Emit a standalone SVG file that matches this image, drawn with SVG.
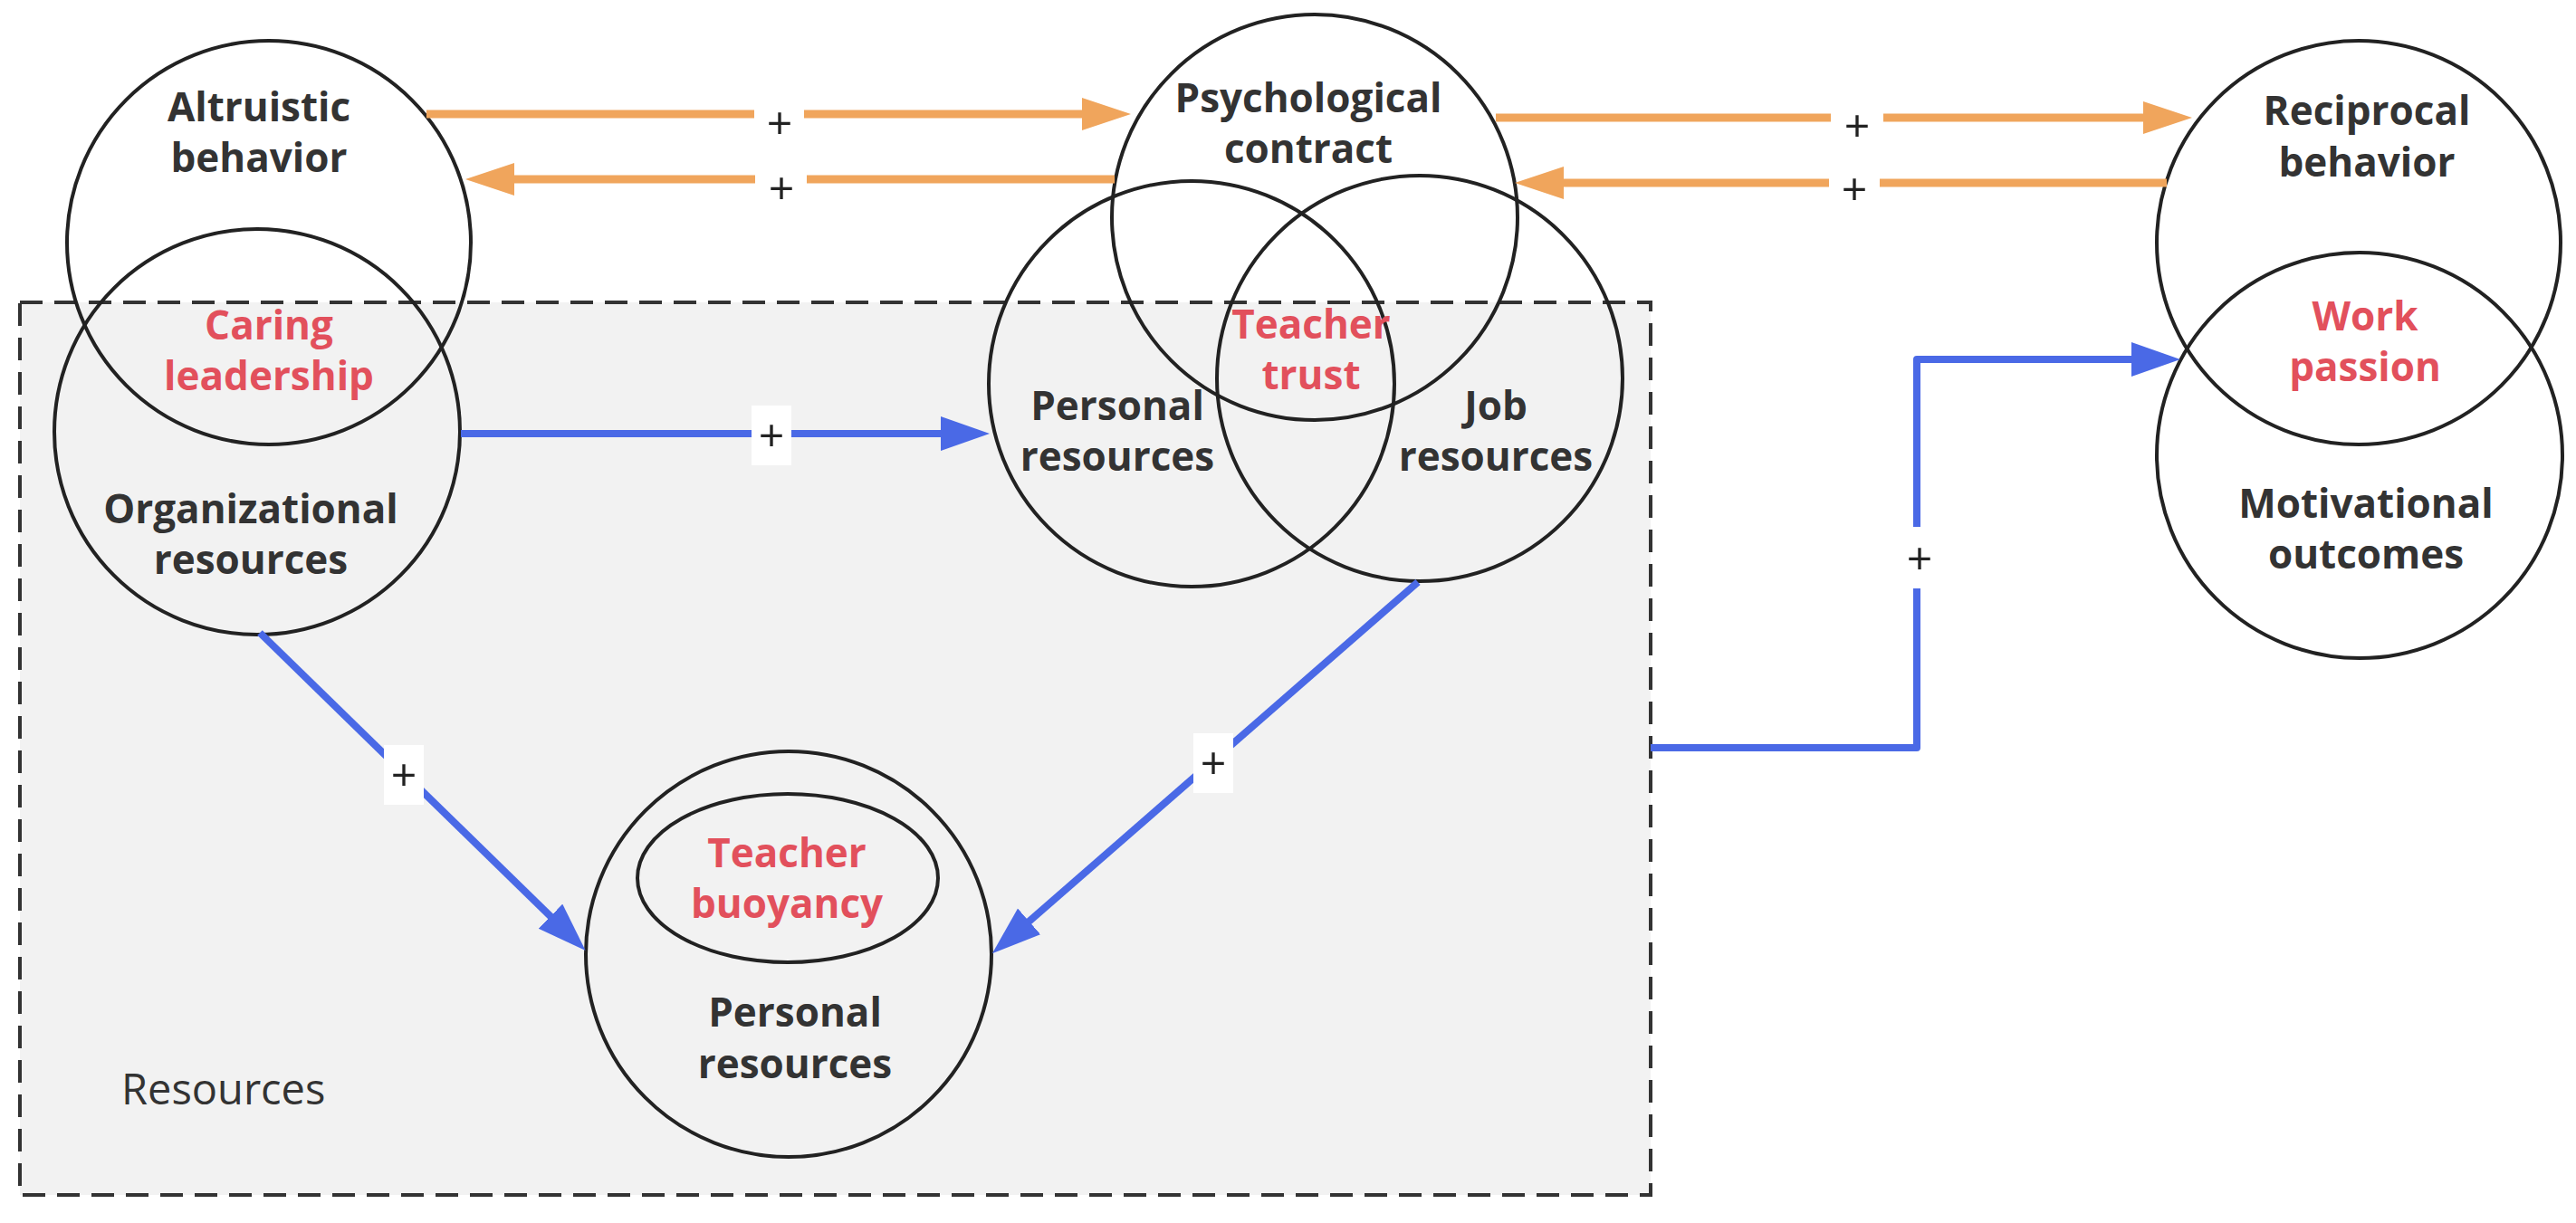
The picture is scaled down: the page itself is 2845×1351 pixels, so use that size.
<svg xmlns="http://www.w3.org/2000/svg" width="2845" height="1351" viewBox="0 0 2845 1351">
  <defs>
    <style>
      .node { fill: none; stroke: #222; stroke-width: 4; }
      .t { font-family: "Open Sans", "Noto Sans", "Liberation Sans", sans-serif; font-weight: 700; font-size: 44px; fill: #333; text-anchor: middle; }
      .red { fill: #e2505c; }
      .plain { font-family: "Open Sans", "Noto Sans", "Liberation Sans", sans-serif; font-weight: 400; font-size: 47px; fill: #333; }
      .plus { font-family: "Open Sans", "Liberation Sans", sans-serif; font-weight: 400; font-size: 50px; fill: #222; text-anchor: middle; }
      .orange { fill: none; stroke: #f0a55c; stroke-width: 9; }
      .blue { fill: none; stroke: #4a69e6; stroke-width: 8; stroke-linejoin: round; }
      .lblbox { fill: #ffffff; }
    </style>
    <marker id="arrO" markerUnits="userSpaceOnUse" markerWidth="56" markerHeight="40" refX="14" refY="19" orient="auto">
      <path d="M0,1 L54,19 L0,37 z" fill="#f0a55c"/>
    </marker>
    <marker id="arrB" markerUnits="userSpaceOnUse" markerWidth="56" markerHeight="40" refX="14" refY="19" orient="auto">
      <path d="M0,0 L54,19 L0,38 z" fill="#4a69e6"/>
    </marker>
  </defs>

  <rect width="2845" height="1351" fill="#ffffff"/>

  <g id="resources-box">
    <rect x="22" y="334" width="1801" height="986" fill="#f2f2f2" stroke="#333" stroke-width="4" stroke-dasharray="25 13"/>
    <text class="plain" x="134" y="1220">Resources</text>
  </g>

  <g id="altruistic-behavior">
    <circle class="node" cx="297" cy="268" r="223"/>
    <text class="t"><tspan x="286" y="134">Altruistic</tspan><tspan x="286" y="190">behavior</tspan></text>
  </g>

  <g id="organizational-resources">
    <circle class="node" cx="284" cy="477" r="224"/>
    <text class="t red"><tspan x="297" y="375">Caring</tspan><tspan x="297" y="431">leadership</tspan></text>
    <text class="t"><tspan x="277" y="578">Organizational</tspan><tspan x="277" y="634">resources</tspan></text>
  </g>

  <g id="psychological-contract">
    <circle class="node" cx="1452" cy="240" r="224"/>
    <text class="t"><tspan x="1445" y="124">Psychological</tspan><tspan x="1445" y="180">contract</tspan></text>
  </g>

  <g id="personal-resources-top">
    <circle class="node" cx="1316" cy="424" r="224"/>
    <text class="t"><tspan x="1234" y="464">Personal</tspan><tspan x="1234" y="520">resources</tspan></text>
  </g>

  <g id="job-resources">
    <circle class="node" cx="1568" cy="418" r="224"/>
    <text class="t"><tspan x="1652" y="464">Job</tspan><tspan x="1652" y="520">resources</tspan></text>
  </g>

  <g id="teacher-trust">
    <text class="t red"><tspan x="1448" y="374">Teacher</tspan><tspan x="1448" y="430">trust</tspan></text>
  </g>

  <g id="reciprocal-behavior">
    <circle class="node" cx="2605" cy="268" r="223"/>
    <text class="t"><tspan x="2614" y="138">Reciprocal</tspan><tspan x="2614" y="195">behavior</tspan></text>
  </g>

  <g id="motivational-outcomes">
    <circle class="node" cx="2606" cy="503" r="224"/>
    <text class="t red"><tspan x="2612" y="365">Work</tspan><tspan x="2612" y="421">passion</tspan></text>
    <text class="t"><tspan x="2613" y="572">Motivational</tspan><tspan x="2613" y="628">outcomes</tspan></text>
  </g>

  <g id="personal-resources-bottom">
    <circle class="node" cx="871" cy="1054" r="224"/>
    <text class="t"><tspan x="878" y="1134">Personal</tspan><tspan x="878" y="1191">resources</tspan></text>
  </g>

  <g id="teacher-buoyancy">
    <ellipse class="node" cx="870" cy="970" rx="166" ry="93"/>
    <text class="t red"><tspan x="869" y="958">Teacher</tspan><tspan x="869" y="1014">buoyancy</tspan></text>
  </g>

  <g id="connectors">
    <line class="orange" x1="471" y1="126" x2="833" y2="126"/>
    <line class="orange" x1="888" y1="126" x2="1209" y2="126" marker-end="url(#arrO)"/>
    <text class="plus" x="861" y="154">+</text>
    <line class="orange" x1="1231" y1="198" x2="891" y2="198"/>
    <line class="orange" x1="834" y1="198" x2="554" y2="198" marker-end="url(#arrO)"/>
    <text class="plus" x="863" y="226">+</text>

    <line class="orange" x1="1652" y1="130" x2="2022" y2="130"/>
    <line class="orange" x1="2080" y1="130" x2="2381" y2="130" marker-end="url(#arrO)"/>
    <text class="plus" x="2051" y="157">+</text>
    <line class="orange" x1="2393" y1="202" x2="2076" y2="202"/>
    <line class="orange" x1="2020" y1="202" x2="1713" y2="202" marker-end="url(#arrO)"/>
    <text class="plus" x="2048" y="227">+</text>

    <line class="blue" x1="509" y1="479" x2="1053" y2="479" marker-end="url(#arrB)"/>
    <rect class="lblbox" x="830" y="448" width="44" height="66"/>
    <text class="plus" x="852" y="499">+</text>

    <line class="blue" x1="287" y1="699" x2="618" y2="1022" marker-end="url(#arrB)"/>
    <rect class="lblbox" x="424" y="823" width="44" height="66"/>
    <text class="plus" x="446" y="874">+</text>

    <line class="blue" x1="1566" y1="643" x2="1126" y2="1027" marker-end="url(#arrB)"/>
    <rect class="lblbox" x="1318" y="810" width="44" height="66"/>
    <text class="plus" x="1340" y="861">+</text>

    <path class="blue" d="M1823,826 H2117 V397 H2368" marker-end="url(#arrB)"/>
    <rect class="lblbox" x="2098" y="582" width="44" height="68"/>
    <text class="plus" x="2120" y="635">+</text>
  </g>
</svg>
